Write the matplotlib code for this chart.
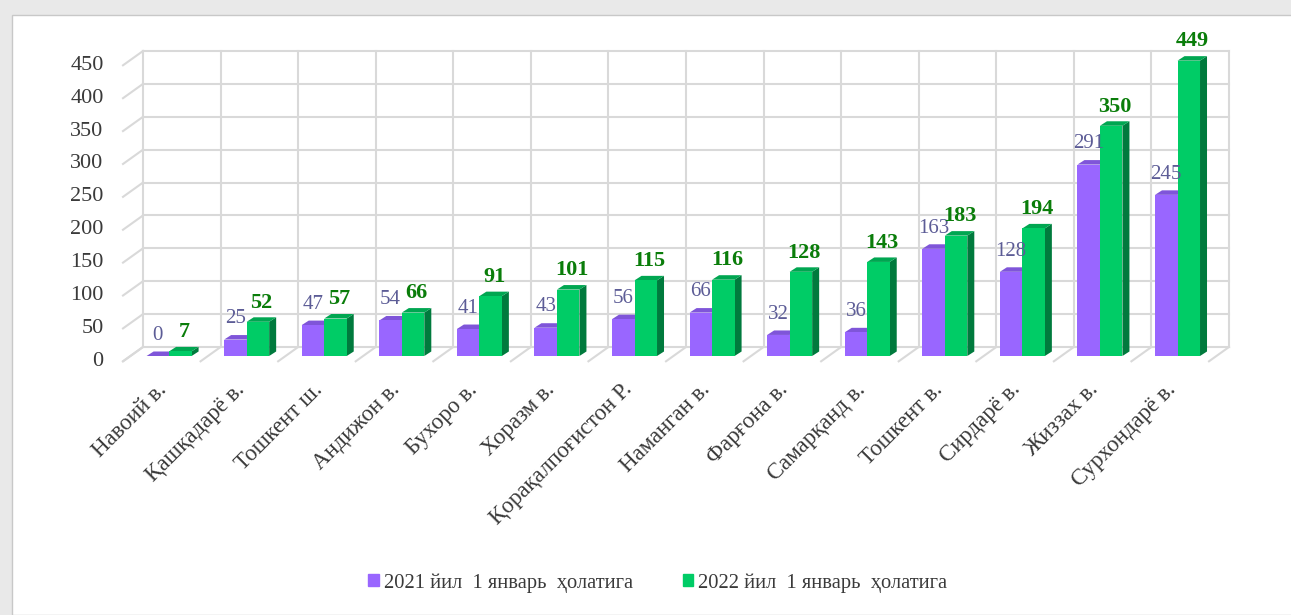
import matplotlib.pyplot as plt
from matplotlib.patches import Patch, Polygon, Rectangle

plt.rcParams["font.family"] = ["Liberation Serif", "DejaVu Serif"]

# данные
regions = [
    "Навоий в.", "Қашқадарё в.", "Тошкент ш.", "Андижон в.", "Бухоро в.",
    "Хоразм в.", "Қорақалпоғистон Р.", "Наманган в.", "Фарғона в.",
    "Самарқанд в.", "Тошкент в.", "Сирдарё в.", "Жиззах в.", "Сурхондарё в.",
]
v2021 = [0, 25, 47, 54, 41, 43, 56, 66, 32, 36, 163, 128, 291, 245]
v2022 = [7, 52, 57, 66, 91, 101, 115, 116, 128, 143, 183, 194, 350, 449]
yticks = [0, 50, 100, 150, 200, 250, 300, 350, 400, 450]
series_names = ["2021 йил  1 январь  ҳолатига", "2022 йил  1 январь  ҳолатига"]

W, H = 1291, 615
fig = plt.figure(figsize=(W / 100, H / 100), dpi=100)
fig.patch.set_facecolor("#e9e9e9")
fig.patches.append(Rectangle((12 / W, 0), 1, 1 - 15 / H, transform=fig.transFigure,
                             facecolor="white", edgecolor="#c8c8c8", lw=1.0, zorder=-10))

ax = fig.add_axes([143 / W, 1 - 347 / H, (1229 - 143) / W, (347 - 51) / H])
ax.patch.set_alpha(0)
n = len(regions)
ax.set_xlim(0, n)
ax.set_ylim(0, 450)
ax.axis("off")

# пиксели -> единицы данных
px_x = (1229 - 143) / n
px_y = (347 - 51) / 450.0
fdx, fdy = -20 / px_x, -14.3 / px_y      # передний край пола
mdx, mdy = -12.7 / px_x, -9 / px_y       # плоскость столбцов
ddx, ddy = 7 / px_x, 4.5 / px_y          # глубина столбца
bw = 22.5 / px_x

grid_kw = dict(color="#d9d9d9", lw=1.5, clip_on=False, zorder=1)
for v in yticks:
    ax.plot([0, n], [v, v], **grid_kw)
    ax.plot([0, fdx], [v, v + fdy], **grid_kw)
    ax.text(fdx - 0.25, v + fdy, str(v), ha="right", va="center",
            fontsize=16, color="#3a3a3a")
for i in range(n + 1):
    ax.plot([i, i], [0, 450], **grid_kw)
    ax.plot([i, i + fdx], [0, fdy], **grid_kw)


def draw_bars(vals, offset, front, top, side, lab_color, weight, lab_size, lab_dx, lab_dy):
    xl = [i + 0.5 + mdx + offset for i in range(n)]
    for x, v in zip(xl, vals):
        t = mdy + v
        ax.add_patch(Polygon([(x + bw, mdy), (x + bw + ddx, mdy + ddy),
                              (x + bw + ddx, t + ddy), (x + bw, t)],
                             facecolor=side, edgecolor="none", clip_on=False, zorder=3))
        ax.add_patch(Polygon([(x, t), (x + bw, t), (x + bw + ddx, t + ddy), (x + ddx, t + ddy)],
                             facecolor=top, edgecolor="none", clip_on=False, zorder=3))
        ax.text(x + bw / 2 + lab_dx, v + lab_dy, str(v), ha="center", va="baseline",
                fontsize=lab_size, color=lab_color, fontweight=weight, zorder=5)
    ax.bar(xl, vals, width=bw, bottom=mdy, align="edge", color=front,
           clip_on=False, zorder=4)


draw_bars(v2021, -bw, "#9966ff", "#7f55d9", "#6a45b8", "#5c5c96", "normal", 15, 0, 11)
draw_bars(v2022, 0, "#00cc66", "#00a651", "#007a3d", "#0a7d0a", "bold", 16, ddx / 2, 8)

for i, name in enumerate(regions):
    ax.text(i + 0.5 + fdx + 6 / px_x, fdy - 29 / px_y, name, rotation=45,
            rotation_mode="anchor", ha="right", va="baseline", fontsize=16.5,
            color="#3a3a3a")

handles = [Patch(color="#9966ff"), Patch(color="#00cc66")]
fig.legend(handles, series_names, loc="center", bbox_to_anchor=(658 / W, 1 - 583 / H),
           ncol=2, frameon=False, fontsize=14.8, handlelength=0.52, handleheight=0.52,
           handletextpad=0.25, columnspacing=2.4, labelcolor="#3a3a3a")

fig.savefig("out.png", dpi=100, facecolor=fig.get_facecolor())
